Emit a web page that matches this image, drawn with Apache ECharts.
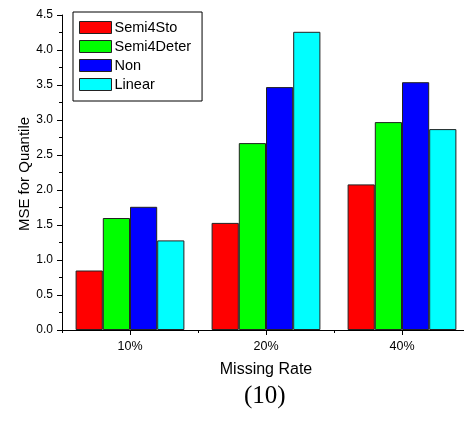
<!DOCTYPE html>
<html><head><meta charset="utf-8">
<script src="https://cdn.jsdelivr.net/npm/echarts@6/dist/echarts.min.js"></script>
<style>html,body{margin:0;padding:0;background:#fff;overflow:hidden;width:464px;height:431px}#c{width:470px;height:431px}</style>
</head><body><div id="c"></div>
<script>
const categories = ['10%', '20%', '40%'];
const seriesNames = ['Semi4Sto', 'Semi4Deter', 'Non', 'Linear'];
const semi4Sto = [0.85, 1.53, 2.08];
const semi4Deter = [1.60, 2.67, 2.97];
const non = [1.76, 3.47, 3.54];
const linear = [1.28, 4.26, 2.87];
const colors = ['#ff0000', '#00ff00', '#0000ff', '#00ffff'];
const values = [semi4Sto, semi4Deter, non, linear];
const font = 'Liberation Sans, Arial, sans-serif';

const chart = echarts.init(document.getElementById('c'), null, {renderer: 'canvas'});
chart.setOption({
  animation: false,
  backgroundColor: '#fff',
  legend: {
    orient: 'vertical', left: 73, top: 12, icon: 'rect',
    itemWidth: 32, itemHeight: 12, itemGap: 4,
    borderColor: '#000', borderWidth: 1, padding: [8, 11, 9, 6],
    textStyle: {fontFamily: font, fontSize: 14.5, lineHeight: 14, color: '#000', padding: [0, 0, 0, -2]},
    itemStyle: {borderColor: '#222', borderWidth: 1},
    data: seriesNames
  },
  grid: {left: 62, top: 15, right: 0, bottom: 101, containLabel: false},
  xAxis: [{
    type: 'category', data: categories,
    name: 'Missing Rate', nameLocation: 'middle', nameGap: 32,
    nameTextStyle: {fontFamily: font, fontSize: 16, color: '#000'},
    axisLine: {lineStyle: {color: '#000', width: 1}},
    axisTick: {show: true, length: 3, lineStyle: {color: '#000'}},
    axisLabel: {fontFamily: font, fontSize: 12.5, color: '#000', margin: 10},
    splitLine: {show: false}
  }, {
    type: 'category', data: categories, position: 'bottom',
    axisLine: {show: false},
    axisTick: {show: true, alignWithLabel: true, length: 5, lineStyle: {color: '#000'}},
    axisLabel: {show: false}, splitLine: {show: false}
  }],
  yAxis: {
    type: 'value', min: 0, max: 4.5, interval: 0.5,
    axisLine: {show: true, lineStyle: {color: '#000', width: 1}},
    axisTick: {show: true, length: 5, lineStyle: {color: '#000'}},
    minorTick: {show: true, splitNumber: 2, length: 3, lineStyle: {color: '#000'}},
    axisLabel: {fontFamily: font, fontSize: 12, color: '#000', margin: 9,
      formatter: v => v.toFixed(1)},
    splitLine: {show: false}
  },
  graphic: [{
    type: 'text', x: 25, y: 174, rotation: Math.PI / 2,
    style: {text: 'MSE for Quantile', font: '15px ' + font, fill: '#000',
      textAlign: 'center', textVerticalAlign: 'middle'}
  }, {
    type: 'text', left: 244, top: 384,
    style: {text: '(10)', font: '25px "Liberation Serif", "Times New Roman", serif', fill: '#000'}
  }],
  series: seriesNames.map((n, i) => ({
    name: n, type: 'bar', xAxisIndex: 0,
    data: values[i], barGap: '0%', barCategoryGap: '20%',
    itemStyle: {color: colors[i], borderColor: '#222', borderWidth: 1}
  }))
});
</script></body></html>
